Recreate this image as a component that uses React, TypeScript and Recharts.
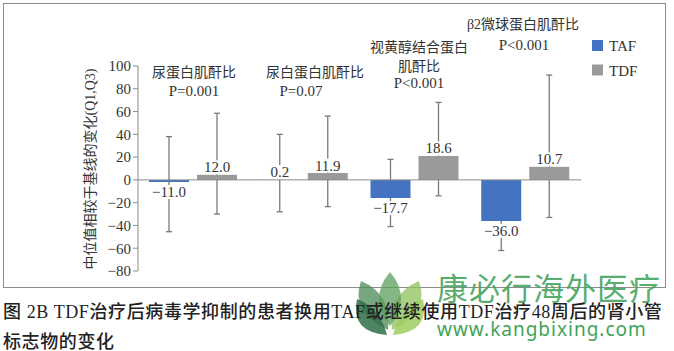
import React from 'react';
import { ComposedChart, Bar, XAxis, YAxis, ReferenceLine, LabelList } from 'recharts';

const categories = ['尿蛋白肌酐比', '尿白蛋白肌酐比', '视黄醇结合蛋白肌酐比', 'β2微球蛋白肌酐比'];
const tafValues = [-1.8, 0.2, -16, -36];
const tdfValues = [4.5, 6, 21, 11.5];
const tafLabels = ['−11.0', '0.2', '−17.7', '−36.0'];
const tdfLabels = ['12.0', '11.9', '18.6', '10.7'];
const tafQ1 = [-45.5, -28, -41, -62];
const tafQ3 = [38, 40, 18, -20];
const tdfQ1 = [-30, -23.5, -14, -33];
const tdfQ3 = [58.5, 56, 68, 92];
const yTicks = [-80, -60, -40, -20, 0, 20, 40, 60, 80, 100];

const data = categories.map((cat, i) => ({
  cat,
  taf: tafValues[i],
  tdf: tdfValues[i],
  tafLabel: tafLabels[i],
  tdfLabel: tdfLabels[i],
  tafRange: [tafQ1[i], tafQ3[i]],
  tdfRange: [tdfQ1[i], tdfQ3[i]],
}));

const SERIF = '"Liberation Serif", "Noto Sans CJK SC", serif';
const CJK = '"Noto Sans CJK SC", sans-serif';
const BLUE = '#4474C1';
const GRAY = '#9a9a9a';
const LINE = '#7a7a7a';

const Whisker = (props: any) => {
  const { x, y, width, height } = props;
  if (x == null || y == null) return null;
  const cx = x + width / 2;
  const top = Math.min(y, y + height);
  const bot = Math.max(y, y + height);
  return (
    <g stroke={LINE} strokeWidth={1.3}>
      <line x1={cx} x2={cx} y1={top} y2={bot} />
      <line x1={cx - 3} x2={cx + 3} y1={top} y2={top} />
      <line x1={cx - 3} x2={cx + 3} y1={bot} y2={bot} />
    </g>
  );
};

const ValueLabel = (props: any) => {
  const vb = props.viewBox && props.viewBox.width != null ? props.viewBox : props;
  const { x, y, width, height } = vb;
  if (x == null || y == null) return null;
  const s = String(props.value);
  const neg = s.startsWith('−');
  const cx = x + width / 2;
  const top = Math.min(y, y + height);
  const bot = Math.max(y, y + height);
  const base = neg ? bot + 15 : top - 2.5;
  return (
    <g>
      <rect x={cx - 19} y={base - 12} width={38} height={14} fill="#fff" />
      <text x={cx} y={base} textAnchor="middle" fontSize={15} fontFamily={SERIF} fill="#333">
        {s}
      </text>
    </g>
  );
};

export default function App() {
  return (
    <div style={{ position: 'absolute', left: 0, top: 0, width: 674, height: 351, background: '#fff', overflow: 'hidden' }}>
      <div style={{ position: 'absolute', left: 3, top: 3, width: 661, height: 283, border: '1px solid #8c8c8c' }} />
      <div style={{ position: 'absolute', left: 0, top: 0 }}>
        <ComposedChart
          width={674}
          height={290}
          data={data}
          margin={{ top: 66, right: 93, bottom: 19, left: 0 }}
          barGap={8}
          barSize={40}
        >
          <XAxis xAxisId="a" dataKey="cat" hide />
          <XAxis xAxisId="b" dataKey="cat" hide />
          <YAxis
            type="number"
            domain={[-80, 100]}
            ticks={yTicks}
            interval={0}
            width={138}
            tickSize={5}
            axisLine={{ stroke: '#8a8a8a' }}
            tickLine={{ stroke: '#8a8a8a' }}
            tick={{ fontSize: 15, fill: '#333', fontFamily: SERIF }}
            tickFormatter={(v: number) => (v < 0 ? '−' + Math.abs(v) : String(v))}
          />
          <ReferenceLine y={0} xAxisId="b" stroke="#8a8a8a" />
          <Bar xAxisId="a" dataKey="tafRange" shape={<Whisker />} fill="none" isAnimationActive={false} />
          <Bar xAxisId="a" dataKey="tdfRange" shape={<Whisker />} fill="none" isAnimationActive={false} />
          <Bar xAxisId="b" dataKey="taf" fill={BLUE} isAnimationActive={false}>
            <LabelList dataKey="tafLabel" content={<ValueLabel />} />
          </Bar>
          <Bar xAxisId="b" dataKey="tdf" fill={GRAY} isAnimationActive={false}>
            <LabelList dataKey="tdfLabel" content={<ValueLabel />} />
          </Bar>
        </ComposedChart>
      </div>
      <svg width={674} height={351} style={{ position: 'absolute', left: 0, top: 0, pointerEvents: 'none' }}>
        {/* group headers */}
        <g fill="#333" textAnchor="middle" dominantBaseline="central">
          <text x={194} y={71} fontSize={14} fontFamily={CJK}>尿蛋白肌酐比</text>
          <text x={194} y={91} fontSize={15} fontFamily={SERIF}>P=0.001</text>
          <text x={315} y={71} fontSize={14} fontFamily={CJK}>尿白蛋白肌酐比</text>
          <text x={301} y={91} fontSize={15} fontFamily={SERIF}>P=0.07</text>
          <text x={419} y={46} fontSize={14} fontFamily={CJK}>视黄醇结合蛋白</text>
          <text x={419} y={64.5} fontSize={14} fontFamily={CJK}>肌酐比</text>
          <text x={419} y={83} fontSize={15} fontFamily={SERIF}>P&lt;0.001</text>
          <text x={523} y={24} fontSize={14} fontFamily={SERIF}>β2微球蛋白肌酐比</text>
          <text x={524} y={45} fontSize={15} fontFamily={SERIF}>P&lt;0.001</text>
        </g>
        {/* legend */}
        <rect x={592} y={40} width={11} height={11} fill={BLUE} />
        <text x={609} y={46} fontSize={15} fontFamily={SERIF} fill="#333" dominantBaseline="central">TAF</text>
        <rect x={592} y={64.5} width={11} height={11} fill={GRAY} />
        <text x={609} y={70.5} fontSize={15} fontFamily={SERIF} fill="#333" dominantBaseline="central">TDF</text>
        {/* y axis label */}
        <text
          x={90}
          y={169}
          transform="rotate(-90 90 169)"
          textAnchor="middle"
          dominantBaseline="central"
          fontSize={14}
          fontFamily={SERIF}
          fill="#333"
        >
          中位值相较于基线的变化(Q1,Q3)
        </text>
        {/* watermark logo */}
        <g>
          <path d="M388 330 Q350 312 361 281 Q392 294 388 330 Z" fill="#4a8a55" fillOpacity={0.75} />
          <path d="M392 330 Q430 312 419 281 Q388 294 392 330 Z" fill="#8cc05a" fillOpacity={0.75} />
          <path d="M390 326 Q368 298 390 272 Q412 298 390 326 Z" fill="#5c9d5c" fillOpacity={0.75} />
          <path d="M387 335 Q350 332 357 299 Q380 308 387 335 Z" fill="#2f6e45" fillOpacity={0.85} />
          <path d="M393 335 Q430 332 423 299 Q400 308 393 335 Z" fill="#9fcd5e" fillOpacity={0.85} />
        </g>
        {/* caption */}
        <g fontFamily={SERIF} fontSize={18} fill="#222" fontWeight={500} dominantBaseline="central">
          <text x={3} y={312} letterSpacing={0.6}>图 2B TDF治疗后病毒学抑制的患者换用TAF或继续使用TDF治疗48周后的肾小管</text>
          <text x={3} y={342} letterSpacing={0.6}>标志物的变化</text>
        </g>
        {/* watermark text */}
        <text x={437} y={286} fontSize={31} fontFamily={CJK} fill="#3fa35b" fillOpacity={0.9} letterSpacing={1} dominantBaseline="central">康必行海外医疗</text>
        <text x={437} y={329} fontSize={19} fontFamily='"Noto Sans", sans-serif' fill="#3fa35b" letterSpacing={1} dominantBaseline="central">www.kangbixing.com</text>
      </svg>
    </div>
  );
}
